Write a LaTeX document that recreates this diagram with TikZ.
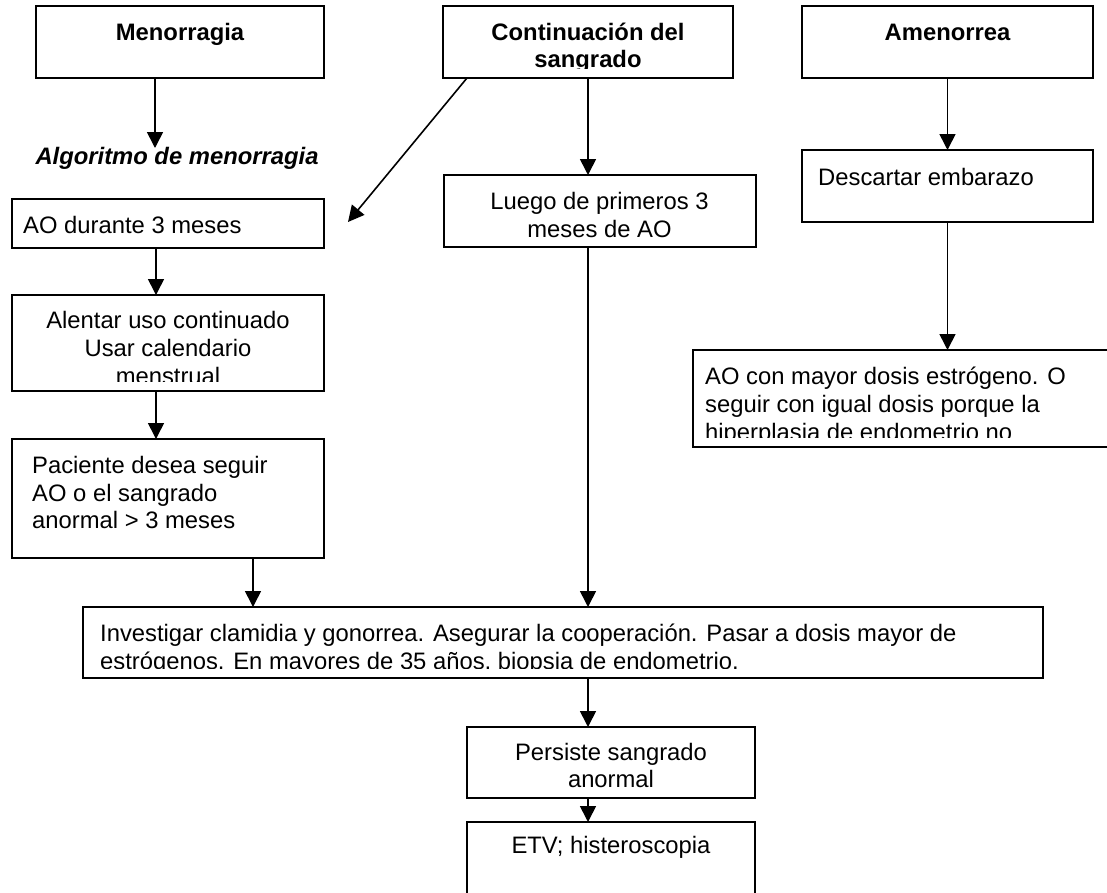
\documentclass[tikz,border=0pt]{standalone}
\usepackage{fontspec}
\setmainfont{Liberation Sans}
\usetikzlibrary{arrows.meta}
\newcommand{\dgfont}{\fontsize{23.8}{28}\selectfont}
\begin{document}
\begin{tikzpicture}[x=1pt, y=-1pt,
  box/.style={draw, line width=2pt, inner sep=0pt, outer sep=0pt},
  arr/.style={line width=1.6pt, -{Triangle[length=16pt, width=16pt]}},
  ltxt/.style={inner sep=0pt, anchor=base west, font=\dgfont},
  ctxt/.style={inner sep=0pt, anchor=base, font=\dgfont},
  htxt/.style={inner sep=0pt, anchor=base, font=\dgfont\bfseries}]

\useasboundingbox (0,0) rectangle (1107,892);
\fill[white] (0,0) rectangle (1107,892);
\clip (0,0) rectangle (1107,892);

% boxes
\node[box, minimum width=288pt, minimum height=72pt] (meno) at (180,42) {};
\node[box, minimum width=290pt, minimum height=72pt] (cont) at (588,42) {};
\node[box, minimum width=291pt, minimum height=72pt] (amen) at (947.5,42) {};
\node[box, minimum width=312pt, minimum height=49pt] (ao3) at (168,223.5) {};
\node[box, minimum width=312pt, minimum height=96pt] (alen) at (168,343) {};
\node[box, minimum width=312pt, minimum height=119pt] (paci) at (168,498.5) {};
\node[box, minimum width=312pt, minimum height=72pt] (luego) at (599.5,211) {};
\node[box, minimum width=291pt, minimum height=72pt] (desc) at (947.5,186) {};
\node[box, minimum width=437pt, minimum height=97pt] (aomay) at (911.5,398.5) {};
\node[box, minimum width=960pt, minimum height=71pt] (inv) at (563,642.5) {};
\node[box, minimum width=288pt, minimum height=71pt] (pers) at (611,762.5) {};
\node[box, minimum width=288pt, minimum height=97pt] (etv) at (611,870.5) {};

% headings
\node[htxt] (menoT) at (180,40) {Menorragia};
\node[htxt] (amenT) at (947.5,40) {Amenorrea};
\begin{scope}
  \clip (cont.north west) rectangle ([yshift=10pt]cont.south east);
  \node[htxt] (contT1) at (588,40) {Continuación del};
  \node[htxt] (contT2) at (588,67) {sangrado};
\end{scope}
\node[inner sep=0pt, anchor=base, font=\dgfont\bfseries\itshape] (algo) at (177,164) {Algoritmo de menorragia};

% left column
\node[ltxt] (ao3T) at (23,233) {AO durante 3 meses};
\begin{scope}
  \clip (alen.north west) rectangle ([yshift=10pt]alen.south east);
  \node[ctxt] (alenT1) at (168,328) {Alentar uso continuado};
  \node[ctxt] (alenT2) at (168,356) {Usar calendario};
  \node[ctxt] (alenT3) at (168,384) {menstrual};
\end{scope}
\node[ltxt] (paciT1) at (32,473) {Paciente desea seguir};
\node[ltxt] (paciT2) at (32,501) {AO o el sangrado};
\node[ltxt] (paciT3) at (32,528) {anormal > 3 meses};

% middle column
\node[ctxt] (luegoT1) at (599.5,209) {Luego de primeros 3};
\node[ctxt] (luegoT2) at (599.5,237) {meses de AO};
\begin{scope}
  \clip (inv.north west) rectangle ([yshift=10pt]inv.south east);
  \node[ltxt] (invT1) at (100,641) {Investigar clamidia y gonorrea. Asegurar la cooperación. Pasar a dosis mayor de};
  \node[ltxt] (invT2) at (100,669) {estrógenos. En mayores de 35 años, biopsia de endometrio.};
\end{scope}
\node[ctxt] (persT1) at (611,760) {Persiste sangrado};
\node[ctxt] (persT2) at (611,787) {anormal};
\node[ctxt] (etvT) at (611,853) {ETV; histeroscopia};

% right column
\node[ltxt] (descT) at (818,185) {Descartar embarazo};
\begin{scope}
  \clip (aomay.north west) rectangle ([yshift=10pt]aomay.south east);
  \node[ltxt] (aomayT1) at (705,384) {AO con mayor dosis estrógeno. O};
  \node[ltxt] (aomayT2) at (705,412) {seguir con igual dosis porque la};
  \node[ltxt] (aomayT3) at (705,440) {hiperplasia de endometrio no};
\end{scope}

% connectors
\coordinate (algoTip) at (155,148);
\coordinate (diagTip) at (348,222);
\draw[arr] (meno.south -| algoTip) -- (algoTip);
\draw[arr] ([xshift=-12pt]ao3.south) -- ([xshift=-12pt]alen.north);
\draw[arr] ([xshift=-12pt]alen.south) -- ([xshift=-12pt]paci.north);
\draw[arr] ([xshift=85pt]paci.south) -- ([xshift=85pt]paci.south |- inv.north);
\draw[arr] ([xshift=24pt]cont.south west) -- (diagTip);
\draw[arr] (cont.south) -- (cont.south |- luego.north);
\draw[arr] (cont.south |- luego.south) -- (cont.south |- inv.north);
\draw[arr] (cont.south |- inv.south) -- (cont.south |- pers.north);
\draw[arr] (cont.south |- pers.south) -- (cont.south |- etv.north);
\draw[arr] (amen.south) -- (desc.north);
\draw[arr] (desc.south) -- (desc.south |- aomay.north);
\end{tikzpicture}
\end{document}
